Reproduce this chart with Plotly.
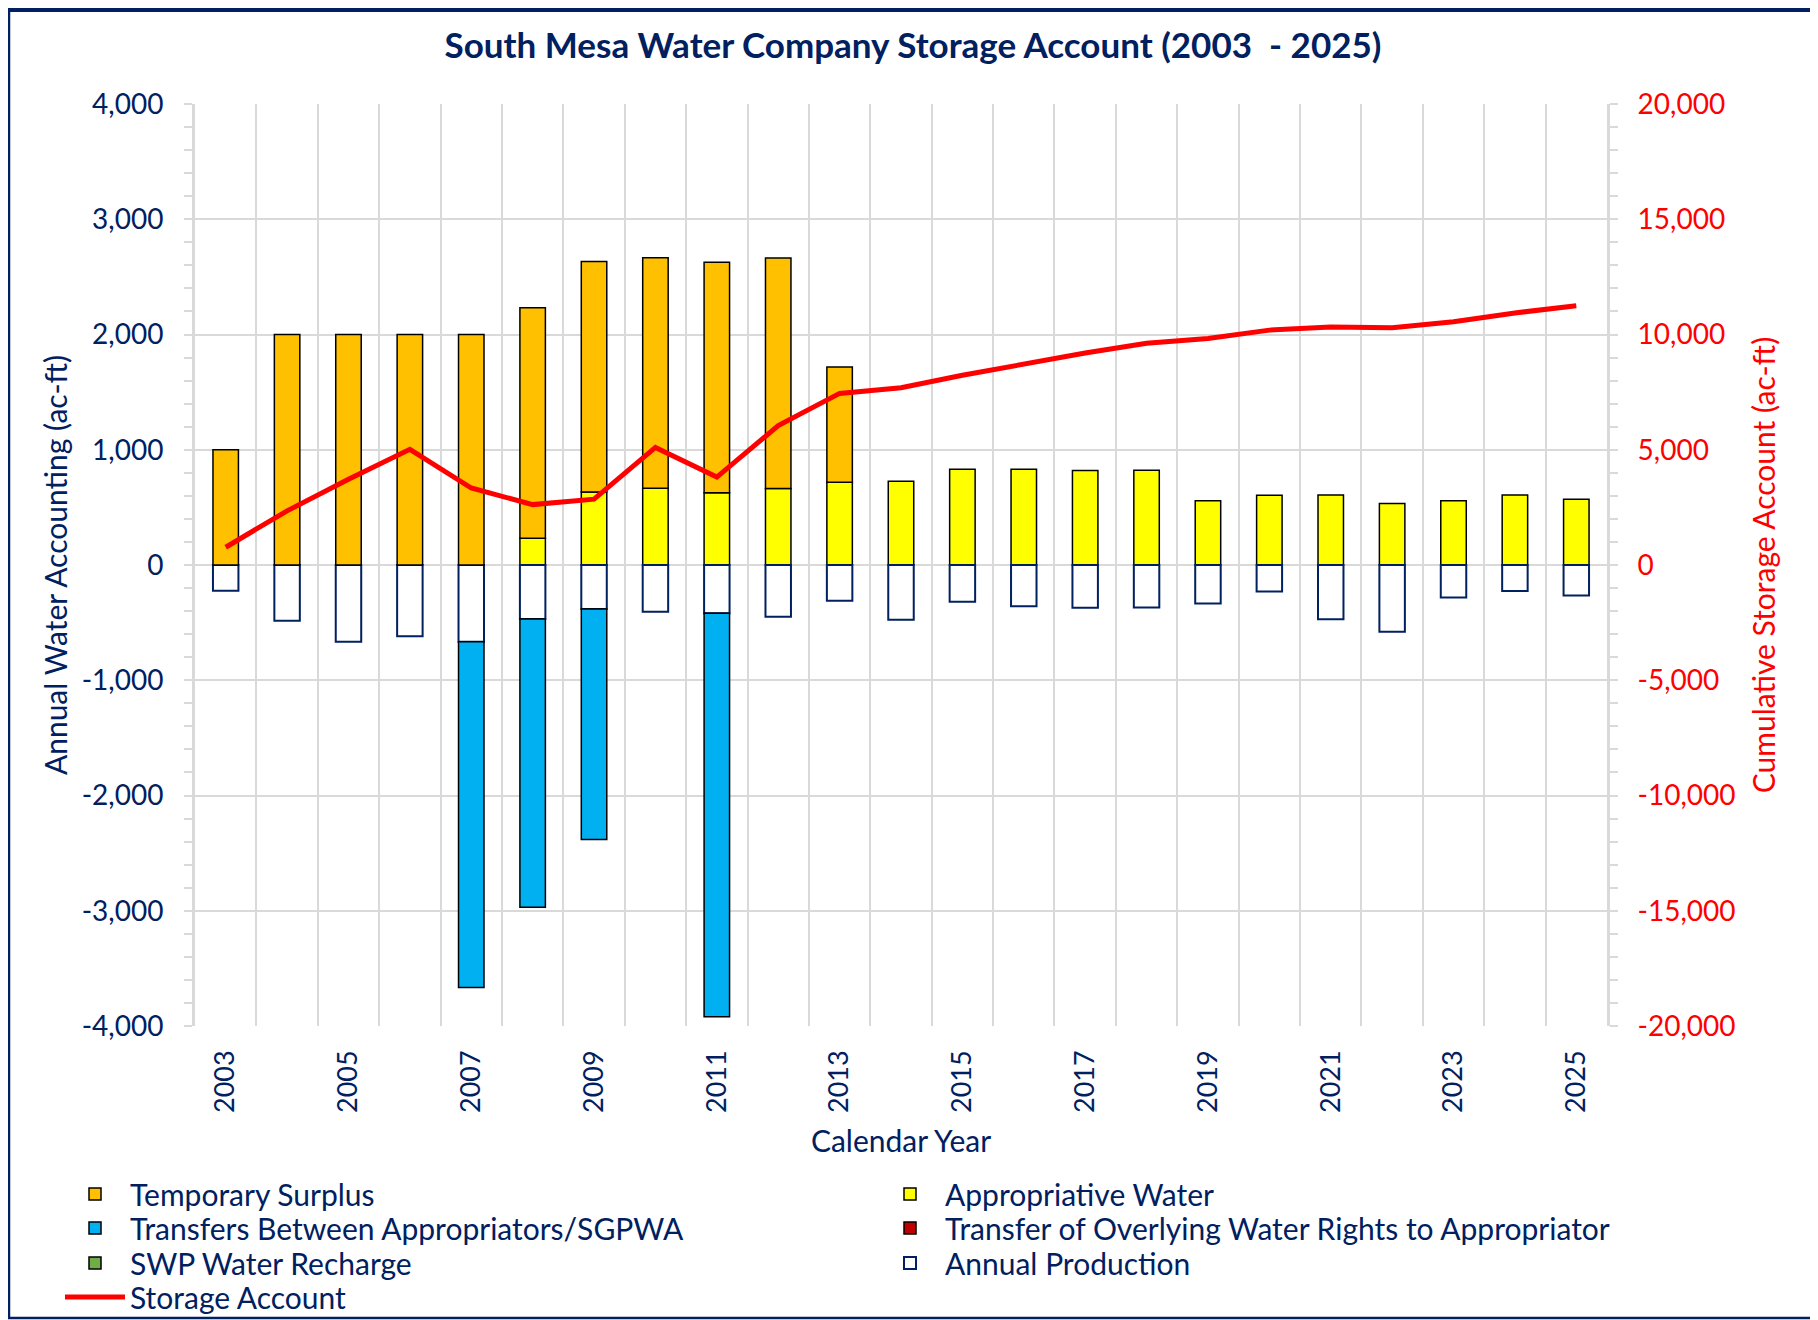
import plotly.graph_objects as go

years = list(range(2003, 2026))

temporary_surplus = [1000, 2000, 2000, 2000, 2000, 2000, 2000, 2000, 2000, 2000, 1000,
                     None, None, None, None, None, None, None, None, None, None, None, None]
appropriative_water = [None, None, None, None, None, 233, 633, 665, 626, 664, 719,
                       726, 831, 831, 819, 822, 558, 605, 608, 533, 558, 608, 571]
transfers_sgpwa = [None, None, None, None, -3000, -2500, -2000, None, -3500, None, None,
                   None, None, None, None, None, None, None, None, None, None, None, None]
overlying_transfer = [None] * 23
swp_recharge = [None] * 23
annual_production = [-223, -483, -665, -619, -665, -469, -382, -405, -419, -448, -310,
                     -475, -319, -357, -371, -368, -333, -229, -470, -580, -281, -226, -264]
storage_account = [770, 2350, 3720, 5020, 3340, 2620, 2855, 5100, 3815, 6045, 7445,
                   7690, 8230, 8740, 9200, 9620, 9830, 10190, 10320, 10290, 10550, 10935, 11250]

left_tickvals = [4000, 3000, 2000, 1000, 0, -1000, -2000, -3000, -4000]
left_ticktext = ["4,000", "3,000", "2,000", "1,000", "0", "-1,000", "-2,000", "-3,000", "-4,000"]
right_tickvals = [20000, 15000, 10000, 5000, 0, -5000, -10000, -15000, -20000]
right_ticktext = ["20,000", "15,000", "10,000", "5,000", "0", "-5,000", "-10,000", "-15,000", "-20,000"]
x_tickvals = [y for y in years if y % 2 == 1]
x_ticktext = [str(y) for y in x_tickvals]

NAVY = "#002060"
FONT = "Lato"
GRID = "#d9d9d9"

# the page body adds an 8px margin, so the figure is 8px smaller and all page positions shift by 8
OFF = 8
W, H = 1818 - OFF, 1320 - OFF
ml, mt = 195 - OFF, 104 - OFF
mr = W - (1607 - OFF)
mb = H - (1026 - OFF)
pw, ph = W - ml - mr, H - mt - mb

# legend slots: (legend id, left px on page, row centre px on page)
LEG_FONT = 30
legend_slots = {
    "Temporary Surplus": ("legend", 60, 1194),
    "Transfers Between Appropriators/SGPWA": ("legend2", 60, 1228),
    "SWP Water Recharge": ("legend3", 60, 1263),
    "Storage Account": ("legend4", 60, 1297),
    "Appropriative Water": ("legend5", 875, 1194),
    "Transfer of Overlying Water Rights to Appropriator": ("legend6", 875, 1228),
    "Annual Production": ("legend7", 875, 1263),
}

fig = go.Figure()

def bar(name, vals, color, line_color, lw=1.5):
    fig.add_trace(go.Bar(
        x=years, y=vals, name=name, legend=legend_slots[name][0],
        marker=dict(color=color, line=dict(color=line_color, width=lw)),
    ))

# stacking order: first trace is nearest zero
bar("Appropriative Water", appropriative_water, "#FFFF00", "#000000")
bar("Annual Production", annual_production, "#FFFFFF", NAVY, 2)
bar("Temporary Surplus", temporary_surplus, "#FFC000", "#000000")
bar("Transfers Between Appropriators/SGPWA", transfers_sgpwa, "#00B0F0", "#000000")
bar("Transfer of Overlying Water Rights to Appropriator", overlying_transfer, "#C00000", "#000000")
bar("SWP Water Recharge", swp_recharge, "#70AD47", "#000000")

fig.add_trace(go.Scatter(
    x=years, y=storage_account, name="Storage Account", yaxis="y2",
    legend=legend_slots["Storage Account"][0],
    mode="lines", line=dict(color="#FF0000", width=5),
))

legend_layouts = {}
for name, (lid, lx, ly) in legend_slots.items():
    legend_layouts[lid] = dict(
        orientation="v", x=(lx - OFF - ml) / pw, xanchor="left",
        y=(H - mb - (ly - OFF)) / ph, yanchor="middle",
        itemwidth=60, font=dict(family=FONT, size=LEG_FONT, color=NAVY),
        bgcolor="rgba(0,0,0,0)", borderwidth=0,
    )

fig.update_layout(
    width=W, height=H,
    margin=dict(l=ml, r=mr, t=mt, b=mb, autoexpand=False),
    paper_bgcolor="white", plot_bgcolor="white",
    barmode="relative", bargap=0.585,
    font=dict(family=FONT, color=NAVY, size=24),
    title=dict(text="<b>South Mesa Water Company Storage Account (2003  - 2025)</b>",
               x=0.5, xanchor="center", y=1 - (46 - OFF) / H, yanchor="middle",
               font=dict(family=FONT, size=35, color=NAVY)),
    xaxis=dict(
        range=[2002.5, 2025.5], tickmode="array", tickvals=x_tickvals, ticktext=x_ticktext,
        tickangle=-90, showgrid=False, zeroline=False, ticks="",
        tickfont=dict(size=27, color=NAVY), ticklabelstandoff=18,
        minor=dict(tick0=2002.5, dtick=1, showgrid=True, gridcolor=GRID, gridwidth=1.5, ticks=""),
        title=dict(text="Calendar Year", font=dict(size=30, color=NAVY), standoff=18),
    ),
    yaxis=dict(
        range=[-4000, 4000], tickmode="array", tickvals=left_tickvals, ticktext=left_ticktext,
        showgrid=True, gridcolor=GRID, gridwidth=1.5, zeroline=False,
        showline=True, linecolor=GRID, linewidth=3,
        ticks="outside", ticklen=8, tickcolor=GRID, tickwidth=1.5,
        minor=dict(dtick=200, ticks="outside", ticklen=8, tickcolor=GRID, tickwidth=1.5, showgrid=False),
        tickfont=dict(size=28, color=NAVY), ticklabelstandoff=15,
        title=dict(text="Annual Water Accounting (ac-ft)", font=dict(size=30, color=NAVY), standoff=6),
    ),
    yaxis2=dict(
        range=[-20000, 20000], overlaying="y", side="right", anchor="x",
        tickmode="array", tickvals=right_tickvals, ticktext=right_ticktext,
        showgrid=False, zeroline=False,
        showline=True, linecolor=GRID, linewidth=3,
        ticks="outside", ticklen=8, tickcolor=GRID, tickwidth=1.5,
        minor=dict(dtick=1000, ticks="outside", ticklen=8, tickcolor=GRID, tickwidth=1.5),
        tickfont=dict(size=28, color="#FF0000"), ticklabelstandoff=14,
        title=dict(text="Cumulative Storage Account (ac-ft)", font=dict(size=30, color="#FF0000"), standoff=20),
    ),
    showlegend=True,
    **legend_layouts,
)

# outer chart border (left, top, bottom; right edge falls outside the picture)
fig.add_shape(type="rect", xref="paper", yref="paper",
              x0=(1 - ml) / pw, x1=(W + 6 - ml) / pw,
              y0=-(mb - 2) / ph, y1=1 + (mt - 1) / ph,
              line=dict(color=NAVY, width=2.5), fillcolor="rgba(0,0,0,0)", layer="below")
fig.add_shape(type="line", xref="paper", yref="paper",
              x0=(0 - ml) / pw, x1=(W - ml) / pw,
              y0=1 + (mt - 2) / ph, y1=1 + (mt - 2) / ph,
              line=dict(color=NAVY, width=4), layer="below")

fig.write_html("out.html")
